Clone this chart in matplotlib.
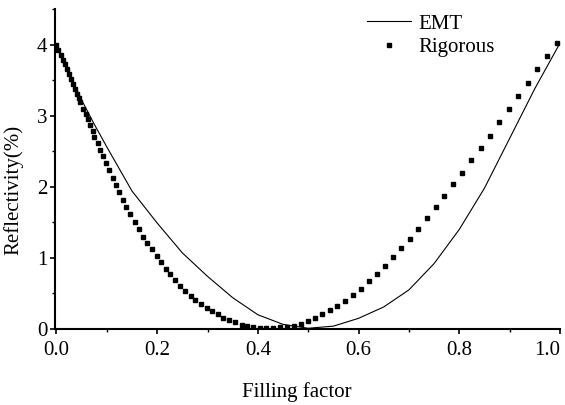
import matplotlib
matplotlib.use("Agg")
import matplotlib.pyplot as plt
from matplotlib.ticker import MultipleLocator

plt.rcParams['font.family'] = ['Liberation Serif', 'DejaVu Serif']

# EMT curve
emt_x = [0.0, 0.025, 0.05, 0.075, 0.1, 0.15, 0.2, 0.25, 0.3, 0.35, 0.4, 0.45,
         0.5, 0.55, 0.6, 0.65, 0.7, 0.75, 0.8, 0.85, 0.9, 0.95, 1.0]
emt_y = [4.00, 3.60, 3.22, 2.88, 2.56, 1.94, 1.49, 1.07, 0.74, 0.44, 0.20, 0.065,
         0.01, 0.04, 0.15, 0.31, 0.55, 0.92, 1.40, 1.98, 2.68, 3.38, 4.02]

# Rigorous points
rig_x = [0.000, 0.004, 0.008, 0.012, 0.016, 0.020, 0.024, 0.028, 0.032, 0.036,
         0.040, 0.044, 0.047, 0.053, 0.059, 0.063, 0.067, 0.072, 0.075, 0.082,
         0.086, 0.093, 0.098, 0.105, 0.112, 0.118, 0.125, 0.133, 0.139, 0.147,
         0.155, 0.164, 0.172, 0.180, 0.190, 0.199, 0.208, 0.217, 0.226, 0.236,
         0.246, 0.256, 0.267, 0.276, 0.287, 0.298, 0.309, 0.321, 0.331, 0.343,
         0.355, 0.368, 0.379, 0.391, 0.404, 0.417, 0.431, 0.444, 0.458, 0.472,
         0.486, 0.500, 0.514, 0.528, 0.544, 0.558, 0.574, 0.588, 0.604, 0.620,
         0.636, 0.652, 0.668, 0.685, 0.702, 0.718, 0.736, 0.753, 0.770, 0.788,
         0.805, 0.824, 0.843, 0.861, 0.879, 0.898, 0.917, 0.936, 0.955, 0.975,
         0.995]
rig_y = [4.00, 3.93, 3.86, 3.79, 3.72, 3.65, 3.59, 3.52, 3.45, 3.38,
         3.31, 3.25, 3.19, 3.10, 3.03, 2.95, 2.87, 2.79, 2.70, 2.61,
         2.52, 2.43, 2.34, 2.23, 2.13, 2.03, 1.92, 1.82, 1.72, 1.62,
         1.51, 1.41, 1.30, 1.21, 1.12, 1.02, 0.94, 0.85, 0.77, 0.69,
         0.61, 0.535, 0.462, 0.401, 0.345, 0.293, 0.246, 0.204, 0.152, 0.120,
         0.092, 0.054, 0.035, 0.021, 0.011, 0.011, 0.011, 0.021, 0.031, 0.045,
         0.068, 0.110, 0.152, 0.204, 0.261, 0.321, 0.397, 0.476, 0.566, 0.673,
         0.772, 0.885, 1.007, 1.134, 1.270, 1.411, 1.561, 1.716, 1.876, 2.04,
         2.20, 2.38, 2.55, 2.72, 2.91, 3.09, 3.27, 3.46, 3.65, 3.84,
         4.02]

xticks = [0.0, 0.2, 0.4, 0.6, 0.8, 1.0]
xtick_labels = ['0.0', '0.2', '0.4', '0.6', '0.8', '1.0']

fig = plt.figure(figsize=(5.65, 4.05), dpi=100)
ax = fig.add_axes([0.0973, 0.1877, 0.8938, 0.790])

ax.plot(emt_x, emt_y, color='black', lw=0.8, label='EMT')
ax.plot(rig_x, rig_y, ls='none', marker='s', ms=3.0, color='black', label='Rigorous')

ax.set_xlim(-0.003, 1.0)
ax.set_ylim(0, 4.5)
ax.set_xticks(xticks)
ax.set_xticklabels(xtick_labels)
ax.xaxis.set_minor_locator(MultipleLocator(0.1))
ax.yaxis.set_major_locator(MultipleLocator(1))
ax.yaxis.set_minor_locator(MultipleLocator(0.5))

for s in ['top', 'right']:
    ax.spines[s].set_visible(False)
for s in ['left', 'bottom']:
    ax.spines[s].set_linewidth(1.5)

ax.tick_params(which='major', direction='out', length=3.5, width=1.2, labelsize=15, pad=2)
ax.tick_params(which='minor', direction='out', length=2, width=1.0)
ax.tick_params(axis='x', which='major', pad=5)

# last x label sits left of its tick so it stays inside the picture
ax.xaxis.get_major_ticks()[-1].label1.set_horizontalalignment('right')

ax.set_xlabel('Filling factor', fontsize=15)
ax.set_ylabel('Reflectivity(%)', fontsize=15)
ax.xaxis.set_label_coords(0.479, -0.165)
ax.xaxis.label.set_va('top')
ax.yaxis.set_label_coords(-0.063, 0.434)

ax.legend(loc='upper left', bbox_to_anchor=(367 / 565, 1 - 14 / 405),
          bbox_transform=fig.transFigure, frameon=False, fontsize=15,
          handlelength=2.1, handletextpad=0.35, borderpad=0, borderaxespad=0,
          labelspacing=0.2, numpoints=1)

fig.savefig('out.png', dpi=100)
